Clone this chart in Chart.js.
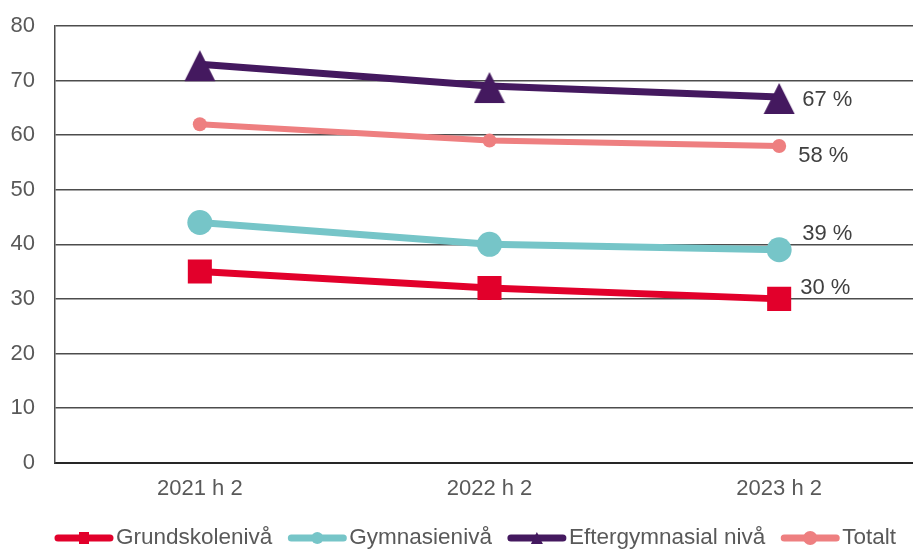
<!DOCTYPE html>
<html>
<head>
<meta charset="utf-8">
<script src="https://cdn.jsdelivr.net/npm/chart.js@4"></script>
<style>
html, body { margin: 0; padding: 0; background: #fff; overflow: hidden; }
</style>
</head>
<body>
<canvas id="myChart" width="947" height="549"></canvas>
<script>
var periods = ["2021 h 2", "2022 h 2", "2023 h 2"];
var seriesNames = ["Grundskolenivå", "Gymnasienivå", "Eftergymnasial nivå", "Totalt"];
var grundskola = [35, 32, 30];
var gymnasie = [44, 40, 39];
var eftergymnasial = [73, 69, 67];
var totalt = [62, 59, 58];

var colors = ["#E2002B", "#76C5C8", "#44195F", "#EE7F80"];
var markerShapes = ["rect", "circle", "triangle", "big"];
// where the "xx %" label sits next to the last point (dx, dy)
var endLabelOffsets = [[21, -11], [23, -16], [23, 3], [19, 10]];

var FONT = "'Liberation Sans', Arial, sans-serif";
Chart.defaults.font.family = FONT;
Chart.defaults.color = "#595959";

function triangleMarker(color) {
  var c = document.createElement("canvas");
  c.width = 32; c.height = 36;
  var g = c.getContext("2d");
  g.fillStyle = color;
  g.beginPath();
  g.moveTo(16, 4); g.lineTo(31.5, 35); g.lineTo(0.5, 35);
  g.closePath(); g.fill();
  return c;
}

function drawLegendIcon(g, x, y, color, shape) {
  g.strokeStyle = color; g.fillStyle = color;
  g.lineWidth = 7; g.lineCap = "round";
  g.beginPath(); g.moveTo(x + 4, y); g.lineTo(x + 56, y); g.stroke();
  g.beginPath();
  if (shape == "rect") {
    g.rect(x + 25, y - 6, 10, 12);
  } else if (shape == "triangle") {
    g.moveTo(x + 30, y - 6); g.lineTo(x + 36, y + 6); g.lineTo(x + 24, y + 6); g.closePath();
  } else if (shape == "big") {
    g.arc(x + 30, y, 7, 0, Math.PI * 2);
  } else {
    g.arc(x + 30, y, 6, 0, Math.PI * 2);
  }
  g.fill();
}

var endLabels = {
  id: "endLabels",
  afterDatasetsDraw: function(chart) {
    var ctx = chart.ctx;
    ctx.save();
    ctx.font = "22px " + FONT;
    ctx.fillStyle = "#404040";
    ctx.textBaseline = "middle";
    ctx.textAlign = "left";
    chart.data.datasets.forEach(function(ds, i) {
      var meta = chart.getDatasetMeta(i);
      var last = ds.data.length - 1;
      var pt = meta.data[last];
      ctx.fillText(ds.data[last] + " %", pt.x + endLabelOffsets[i][0], pt.y + endLabelOffsets[i][1]);
    });
    ctx.restore();
  }
};

var lineLegend = {
  id: "lineLegend",
  afterDraw: function(chart) {
    var ctx = chart.ctx;
    ctx.save();
    ctx.font = "22.5px " + FONT;
    var iconW = 60, gap = 2, spacing = 15;
    var total = 0;
    chart.data.datasets.forEach(function(ds) {
      total += iconW + gap + ctx.measureText(ds.label).width + spacing;
    });
    total -= spacing;
    var x = 475 - total / 2;
    var y = 538;
    chart.data.datasets.forEach(function(ds, i) {
      drawLegendIcon(ctx, x, y, colors[i], markerShapes[i]);
      x += iconW + gap;
      ctx.fillStyle = "#595959";
      ctx.textBaseline = "middle";
      ctx.fillText(ds.label, x, y);
      x += ctx.measureText(ds.label).width + spacing;
    });
    ctx.restore();
  }
};

new Chart("myChart", {
  type: "line",
  data: {
    labels: periods,
    datasets: [{
      label: seriesNames[0],
      data: grundskola,
      borderColor: colors[0],
      backgroundColor: colors[0],
      borderWidth: 7,
      pointStyle: "rect",
      pointRadius: 17,
      pointBorderWidth: 0
    }, {
      label: seriesNames[1],
      data: gymnasie,
      borderColor: colors[1],
      backgroundColor: colors[1],
      borderWidth: 7,
      pointStyle: "circle",
      pointRadius: 12.5,
      pointBorderWidth: 0
    }, {
      label: seriesNames[2],
      data: eftergymnasial,
      borderColor: colors[2],
      backgroundColor: colors[2],
      borderWidth: 7,
      pointStyle: triangleMarker(colors[2]),
      pointRadius: 16
    }, {
      label: seriesNames[3],
      data: totalt,
      borderColor: colors[3],
      backgroundColor: colors[3],
      borderWidth: 6,
      pointStyle: "circle",
      pointRadius: 7,
      pointBorderWidth: 0
    }]
  },
  options: {
    responsive: false,
    animation: false,
    layout: { padding: { top: 26, left: 10, right: 1, bottom: 42 } },
    scales: {
      x: {
        offset: true,
        grid: { display: false },
        border: { display: true, color: "#262626", width: 2 },
        ticks: { font: { size: 22 }, color: "#595959", padding: 5 }
      },
      y: {
        min: 0,
        max: 80,
        afterFit: function(scale) { scale.width = 45; },
        ticks: { stepSize: 10, font: { size: 22 }, color: "#595959", padding: 0 },
        grid: { color: "#4d4d4d", lineWidth: 1.5, drawTicks: true, tickLength: 20, tickColor: "rgba(0,0,0,0)" },
        border: { display: true, color: "#4d4d4d", width: 1.5 }
      }
    },
    plugins: {
      tooltip: { enabled: false },
      legend: { display: false }
    }
  },
  plugins: [endLabels, lineLegend]
});
</script>
</body>
</html>
